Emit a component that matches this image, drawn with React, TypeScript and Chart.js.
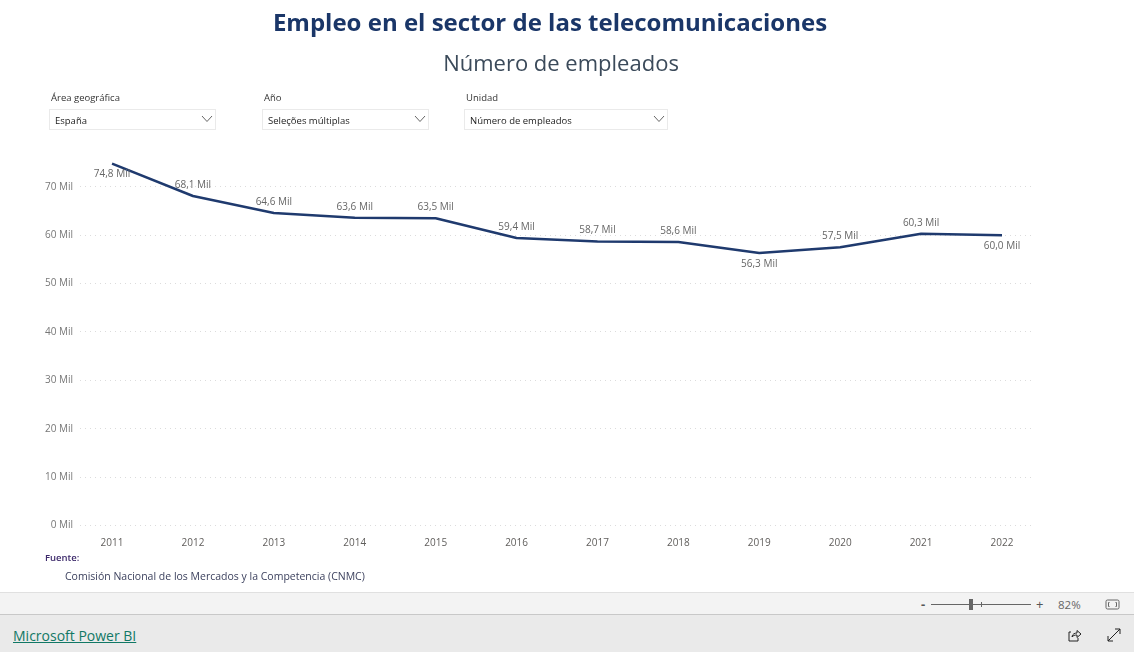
import React, { useEffect, useRef } from "react";
import { Chart, registerables } from "chart.js";

Chart.register(...registerables);

const years = [2011, 2012, 2013, 2014, 2015, 2016, 2017, 2018, 2019, 2020, 2021, 2022];
const empleados = [74.8, 68.1, 64.6, 63.6, 63.5, 59.4, 58.7, 58.6, 56.3, 57.5, 60.3, 60.0];
const labelsBelow = [2011, 2019, 2022];
const filters = [
  { label: "Área geográfica", value: "España", left: 49, width: 167 },
  { label: "Año", value: "Seleções múltiplas", left: 262, width: 167 },
  { label: "Unidad", value: "Número de empleados", left: 464, width: 204 },
];

const FONT = '"Open Sans", sans-serif';
const fmt = (v: number) => v.toFixed(1).replace(".", ",") + " Mil";

const labelPlugin = {
  id: "pointLabels",
  afterDatasetsDraw(chart: any) {
    const { ctx } = chart;
    const pts = chart.getDatasetMeta(0).data;
    ctx.save();
    ctx.font = `10px ${FONT}`;
    ctx.fillStyle = "#666666";
    ctx.textAlign = "center";
    ctx.textBaseline = "middle";
    pts.forEach((p: any, i: number) => {
      const below = labelsBelow.includes(years[i]);
      ctx.fillText(fmt(empleados[i]), p.x, p.y + (below ? 11 : -11));
    });
    ctx.restore();
  },
};

const abs = (left: number, top: number, extra: React.CSSProperties = {}): React.CSSProperties => ({
  position: "absolute",
  left,
  top,
  whiteSpace: "nowrap",
  ...extra,
});

export default function App() {
  const ref = useRef<HTMLCanvasElement>(null);
  useEffect(() => {
    const chart = new Chart(ref.current!, {
      type: "line",
      data: {
        datasets: [
          {
            data: years.map((y, i) => ({ x: y, y: empleados[i] })),
            borderColor: "#1f3a6e",
            borderWidth: 2.5,
            pointRadius: 0,
            tension: 0,
            borderJoinStyle: "round",
            clip: false,
          } as any,
        ],
      },
      plugins: [labelPlugin],
      options: {
        responsive: false,
        animation: false,
        layout: { padding: { top: 150, right: 99, bottom: 100.5, left: 0 } },
        plugins: { legend: { display: false }, tooltip: { enabled: false } },
        scales: {
          x: {
            type: "linear",
            min: 2010.604,
            max: 2022.408,
            afterFit: (s: any) => {
              s.height = 26;
            },
            grid: { display: false },
            border: { display: false },
            ticks: {
              stepSize: 1,
              includeBounds: false,
              autoSkip: false,
              maxRotation: 0,
              padding: 4,
              color: "#605e5c",
              font: { family: FONT, size: 10 },
              callback: (v: any) => String(v),
            },
          },
          y: {
            min: 0,
            max: 77.6,
            afterFit: (s: any) => {
              s.width = 80;
            },
            grid: {
              color: "#dcdcdc",
              tickLength: 0,
              drawTicks: false,
            } as any,
            border: { display: false, dash: [1, 4] },
            ticks: {
              stepSize: 10,
              includeBounds: false,
              padding: 7,
              color: "#777777",
              font: { family: FONT, size: 10 },
              callback: (v: any) => `${v} Mil`,
            },
          },
        },
      },
    } as any);
    return () => chart.destroy();
  }, []);

  return (
    <div style={{ position: "fixed", inset: 0, width: 1134, height: 652, background: "#fff", overflow: "hidden", fontFamily: FONT }}>
      <canvas ref={ref} width={1134} height={652} style={{ position: "absolute", left: 0, top: 0, display: "block" }} />
      <div style={abs(0, 5, { width: 1100, textAlign: "center", fontSize: 24, fontWeight: 700, color: "#1a3668", lineHeight: "34px" })}>
        Empleo en el sector de las telecomunicaciones
      </div>
      <div style={abs(0, 46, { width: 1122, textAlign: "center", fontSize: 22, color: "#3b4a5a", lineHeight: "32px" })}>
        Número de empleados
      </div>
      {filters.map((f) => (
        <React.Fragment key={f.label}>
          <div style={abs(f.left + 2, 91, { fontSize: 9.5, color: "#333", lineHeight: "14px" })}>{f.label}</div>
          <div style={abs(f.left, 109, { width: f.width, height: 21, boxSizing: "border-box", border: "1px solid #eaeaea", background: "#fff" })}>
            <span style={abs(5, 4, { fontSize: 9.5, color: "#222", lineHeight: "14px" })}>{f.value}</span>
            <svg width="12" height="8" style={{ position: "absolute", right: 2, top: 5 }}>
              <path d="M1 1 L6 6.5 L11 1" fill="none" stroke="#666" strokeWidth="1" />
            </svg>
          </div>
        </React.Fragment>
      ))}
      <div style={abs(45, 551, { fontSize: 9.5, fontWeight: 600, color: "#3d2a6b", lineHeight: "14px" })}>Fuente:</div>
      <div style={abs(65, 569, { fontSize: 10.5, color: "#3a3f5c", lineHeight: "15px" })}>
        Comisión Nacional de los Mercados y la Competencia (CNMC)
      </div>

      <div style={abs(0, 592, { width: 1134, height: 23, boxSizing: "border-box", background: "#f3f3f3", borderTop: "1px solid #e0e0e0", borderBottom: "1px solid #c8c8c8" })} />
      <div style={abs(0, 615, { width: 1134, height: 37, background: "#eaeaea" })} />
      <div style={abs(921, 596, { fontSize: 13, fontWeight: 700, color: "#555", lineHeight: "16px" })}>-</div>
      <div style={abs(931, 604, { width: 100, height: 1, background: "#666" })} />
      <div style={abs(969, 599, { width: 4, height: 11, background: "#666" })} />
      <div style={abs(981, 602, { width: 1, height: 5, background: "#666" })} />
      <div style={abs(1036, 596, { fontSize: 13, color: "#555", lineHeight: "16px" })}>+</div>
      <div style={abs(1058, 597, { fontSize: 11.5, color: "#666", lineHeight: "16px" })}>82%</div>
      <svg width="16" height="12" style={{ position: "absolute", left: 1105, top: 599 }}>
        <rect x="1" y="1" width="13" height="9" rx="1.5" fill="none" stroke="#666" />
        <path d="M4.5 3.5 H3.5 V7.5 H4.5 M10.5 3.5 H11.5 V7.5 H10.5" fill="none" stroke="#666" />
      </svg>
      <div style={abs(13, 627, { fontSize: 14, color: "#117865", textDecoration: "underline", lineHeight: "18px", fontWeight: 500 })}>
        Microsoft Power BI
      </div>
      <svg width="16" height="16" style={{ position: "absolute", left: 1067, top: 627 }}>
        <path d="M4 5 H2 V14 H11 V11" fill="none" stroke="#222" />
        <path d="M5 10 C5 7 8 6 10 6 V3.5 L14 7 L10 10.5 V8 C8 8 6 8.5 5 10 Z" fill="none" stroke="#222" />
      </svg>
      <svg width="16" height="16" style={{ position: "absolute", left: 1106, top: 627 }}>
        <path d="M2 14 L14 2 M9 2 H14 V7 M2 9 V14 H7" fill="none" stroke="#222" />
      </svg>
    </div>
  );
}
